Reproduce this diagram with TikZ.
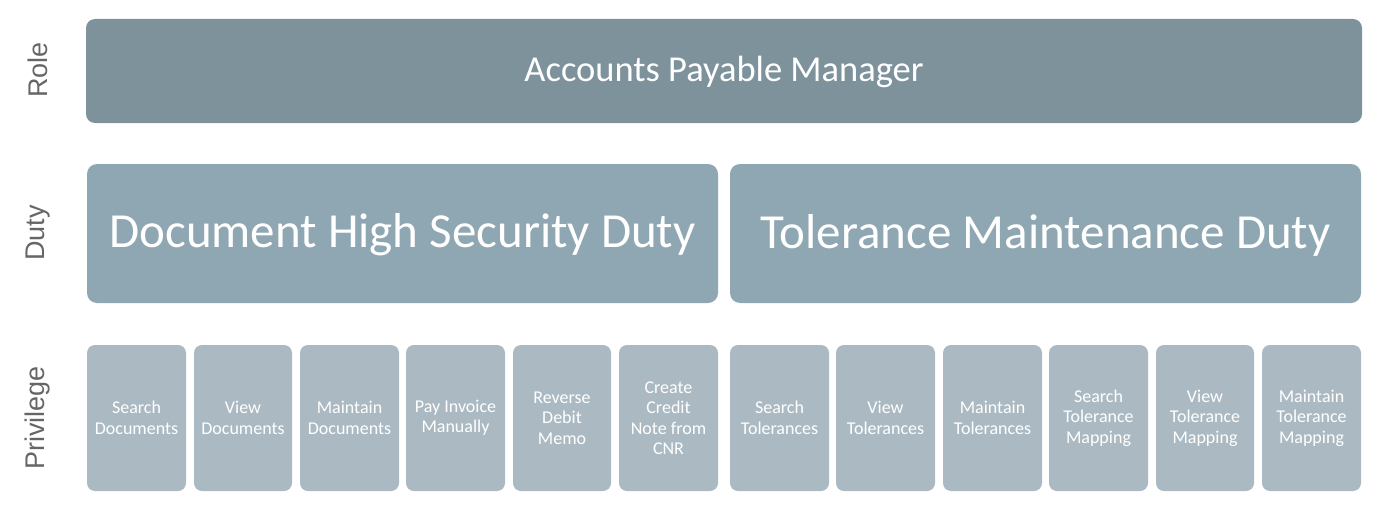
\documentclass[tikz,border=0pt]{standalone}
\usepackage{fontspec}
\setmainfont{Carlito}
\newfontfamily\labelfont{Liberation Sans}
\definecolor{rolec}{HTML}{7E929C}
\definecolor{dutyc}{HTML}{8FA7B2}
\definecolor{privc}{HTML}{ABBAC2}
\definecolor{labc}{HTML}{666666}
\begin{document}
\begin{tikzpicture}[x=1pt,y=-1pt,
  rolebox/.style={fill=rolec,draw=none,rounded corners=9pt},
  dutybox/.style={fill=dutyc,draw=none,rounded corners=10pt},
  privbox/.style={fill=privc,draw=none,rounded corners=8pt},
  roletext/.style={text=white,font=\fontsize{36.5}{42}\selectfont},
  dutytext/.style={text=white,font=\fontsize{49}{56}\selectfont},
  privtext/.style={text=white,align=center,font=\fontsize{18}{20.5}\selectfont},
  sidelabel/.style={text=labc,rotate=90,font=\labelfont\fontsize{27}{32}\selectfont}]
\useasboundingbox (0,0) rectangle (1386,511);
% labels
\node[sidelabel] (lrole) at (38,70) {Role};
\node[sidelabel] (lduty) at (38,233) {Duty};
\node[sidelabel] (lpriv) at (38,418) {Privilege};
% role
\path[rolebox] (86,19) rectangle (1362,123);
\node[roletext] (role) at (724,72) {Accounts Payable Manager};
% duties
\path[dutybox] (87,164) rectangle (718,303);
\node[dutytext] (d1) at (402.5,235) {Document High Security Duty};
\path[dutybox] (730,164) rectangle (1361,303);
\node[dutytext] (d2) at (1045.5,235) {Tolerance Maintenance Duty};
% privileges
\foreach \x/\w/\t [count=\i] in {
  87/99/{Search\\Documents},
  194/98/{View\\Documents},
  300/99/{Maintain\\Documents},
  406/99/{Pay Invoice\\Manually},
  513/98/{Reverse\\Debit\\Memo},
  619/99/{Create\\Credit\\Note from\\CNR},
  730/99/{Search\\Tolerances},
  836/99/{View\\Tolerances},
  943/99/{Maintain\\Tolerances},
  1049/99/{Search\\Tolerance\\Mapping},
  1156/98/{View\\Tolerance\\Mapping},
  1262/99/{Maintain\\Tolerance\\Mapping}} {
  \path[privbox] (\x,345) rectangle ++(\w,146);
  \node[privtext] (p\i) at (\x+\w/2,418) {\t};
}
\end{tikzpicture}
\end{document}
